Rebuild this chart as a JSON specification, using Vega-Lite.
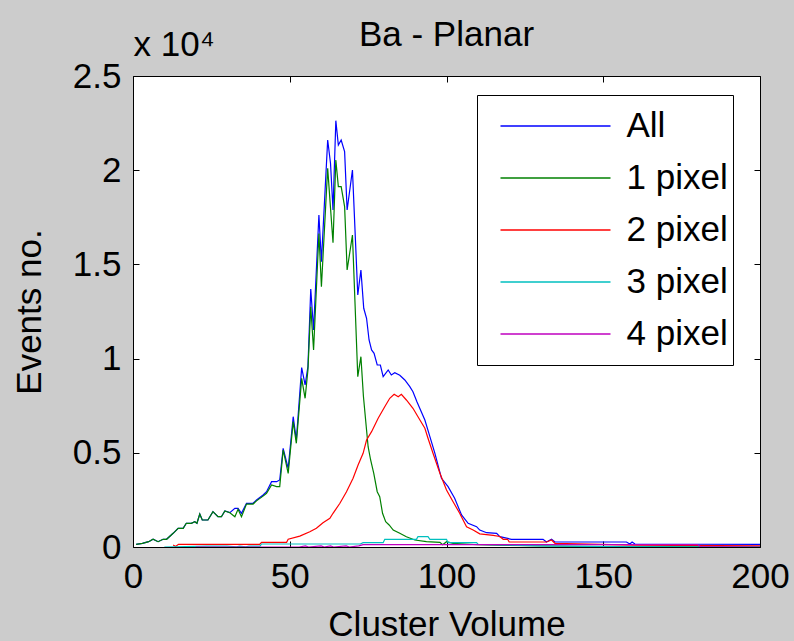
{
  "$schema": "https://vega.github.io/schema/vega-lite/v6.json",
  "width": 627,
  "height": 471,
  "autosize": {"type": "none"},
  "padding": {"left": 133, "top": 76, "right": 34, "bottom": 94},
  "background": "#cccccc",
  "title": {"text": "Ba - Planar", "fontSize": 35, "font": "Liberation Sans", "fontWeight": "normal", "color": "black", "anchor": "middle", "frame": "group", "baseline": "alphabetic", "offset": -54},
  "config": {
    "view": {"stroke": "black", "strokeWidth": 1, "fill": "white"},
    "axis": {"labelFont": "Liberation Sans", "titleFont": "Liberation Sans", "labelFontSize": 35, "titleFontSize": 35, "titleFontWeight": "normal", "labelColor": "black", "titleColor": "black", "tickColor": "black", "domain": false, "grid": false, "tickSize": -6, "tickWidth": 1, "labelFlush": false}
  },
  "datasets": {
    "d": [
      {"s":"All","x":1,"y":143},{"s":"All","x":3,"y":196},{"s":"All","x":5,"y":281},{"s":"All","x":6.4,"y":409},{"s":"All","x":8,"y":281},{"s":"All","x":9.6,"y":409},{"s":"All","x":10.7,"y":409},{"s":"All","x":12.8,"y":727},{"s":"All","x":14.4,"y":993},{"s":"All","x":16,"y":993},{"s":"All","x":17,"y":1258},{"s":"All","x":18.6,"y":1258},{"s":"All","x":19.7,"y":1343},{"s":"All","x":20.4,"y":1258},{"s":"All","x":21.3,"y":1752},{"s":"All","x":22.1,"y":1433},{"s":"All","x":23.9,"y":1433},{"s":"All","x":25.5,"y":1874},{"s":"All","x":27.1,"y":1608},{"s":"All","x":28.2,"y":1608},{"s":"All","x":29.3,"y":1911},{"s":"All","x":30.9,"y":1821},{"s":"All","x":32.5,"y":2054},{"s":"All","x":33.5,"y":2054},{"s":"All","x":34.6,"y":1789},{"s":"All","x":36.2,"y":2320},{"s":"All","x":38.3,"y":2320},{"s":"All","x":39.4,"y":2495},{"s":"All","x":41.5,"y":2760},{"s":"All","x":42.6,"y":2936},{"s":"All","x":44.2,"y":3467},{"s":"All","x":45.8,"y":3467},{"s":"All","x":46.8,"y":3557},{"s":"All","x":47.9,"y":5238},{"s":"All","x":49.5,"y":4176},{"s":"All","x":51.1,"y":6917},{"s":"All","x":52.1,"y":5680},{"s":"All","x":53.8,"y":9520},{"s":"All","x":54.9,"y":8600},{"s":"All","x":55.8,"y":9571},{"s":"All","x":56.7,"y":13696},{"s":"All","x":57.6,"y":11519},{"s":"All","x":59.3,"y":17624},{"s":"All","x":60.1,"y":15145},{"s":"All","x":62.1,"y":21605},{"s":"All","x":63.0,"y":20369},{"s":"All","x":63.8,"y":17889},{"s":"All","x":64.7,"y":22629},{"s":"All","x":65.5,"y":21340},{"s":"All","x":66.4,"y":21605},{"s":"All","x":67.5,"y":20984},{"s":"All","x":68.3,"y":17889},{"s":"All","x":70.0,"y":20013},{"s":"All","x":71.7,"y":13377},{"s":"All","x":72.7,"y":14704},{"s":"All","x":73.6,"y":12671},{"s":"All","x":74.5,"y":12140},{"s":"All","x":75.3,"y":10988},{"s":"All","x":76.1,"y":10458},{"s":"All","x":76.9,"y":10282},{"s":"All","x":77.9,"y":9661},{"s":"All","x":78.9,"y":9661},{"s":"All","x":79.8,"y":9040},{"s":"All","x":81.4,"y":9396},{"s":"All","x":82.4,"y":9130},{"s":"All","x":83.5,"y":9253},{"s":"All","x":85.1,"y":9115},{"s":"All","x":86.7,"y":8865},{"s":"All","x":88.3,"y":8509},{"s":"All","x":89.3,"y":8244},{"s":"All","x":90.6,"y":7700},{"s":"All","x":93.1,"y":6742},{"s":"All","x":94.7,"y":5855},{"s":"All","x":96.3,"y":4974},{"s":"All","x":98.4,"y":3647},{"s":"All","x":100.5,"y":3201},{"s":"All","x":102.6,"y":2585},{"s":"All","x":104.8,"y":1699},{"s":"All","x":106.9,"y":1258},{"s":"All","x":109.6,"y":1078},{"s":"All","x":110.6,"y":900},{"s":"All","x":112.8,"y":759},{"s":"All","x":116,"y":727},{"s":"All","x":117,"y":547},{"s":"All","x":120.7,"y":409},{"s":"All","x":130.8,"y":409},{"s":"All","x":131.9,"y":265},{"s":"All","x":133.5,"y":409},{"s":"All","x":134.6,"y":265},{"s":"All","x":157.4,"y":265},{"s":"All","x":158.5,"y":159},{"s":"All","x":159.2,"y":265},{"s":"All","x":160.1,"y":159},{"s":"All","x":200,"y":143},
      {"s":"1 pixel","x":1,"y":143},{"s":"1 pixel","x":3,"y":196},{"s":"1 pixel","x":5,"y":281},{"s":"1 pixel","x":6.4,"y":409},{"s":"1 pixel","x":8,"y":281},{"s":"1 pixel","x":9.6,"y":409},{"s":"1 pixel","x":10.7,"y":409},{"s":"1 pixel","x":12.8,"y":727},{"s":"1 pixel","x":14.4,"y":993},{"s":"1 pixel","x":16,"y":993},{"s":"1 pixel","x":17,"y":1258},{"s":"1 pixel","x":18.6,"y":1258},{"s":"1 pixel","x":19.7,"y":1343},{"s":"1 pixel","x":20.4,"y":1258},{"s":"1 pixel","x":21.3,"y":1752},{"s":"1 pixel","x":22.1,"y":1433},{"s":"1 pixel","x":23.9,"y":1433},{"s":"1 pixel","x":25.5,"y":1874},{"s":"1 pixel","x":27.1,"y":1608},{"s":"1 pixel","x":28.2,"y":1608},{"s":"1 pixel","x":29.3,"y":1911},{"s":"1 pixel","x":30.9,"y":1821},{"s":"1 pixel","x":32.5,"y":1608},{"s":"1 pixel","x":33.5,"y":2000},{"s":"1 pixel","x":34.6,"y":1608},{"s":"1 pixel","x":36.2,"y":2280},{"s":"1 pixel","x":38.3,"y":2280},{"s":"1 pixel","x":39.4,"y":2450},{"s":"1 pixel","x":41.5,"y":2700},{"s":"1 pixel","x":42.6,"y":2850},{"s":"1 pixel","x":44.2,"y":3291},{"s":"1 pixel","x":45.8,"y":3202},{"s":"1 pixel","x":46.8,"y":3202},{"s":"1 pixel","x":47.9,"y":5150},{"s":"1 pixel","x":49.5,"y":3911},{"s":"1 pixel","x":51.1,"y":6652},{"s":"1 pixel","x":52.1,"y":5504},{"s":"1 pixel","x":53.8,"y":8950},{"s":"1 pixel","x":54.9,"y":7893},{"s":"1 pixel","x":55.8,"y":9400},{"s":"1 pixel","x":56.7,"y":12756},{"s":"1 pixel","x":57.6,"y":10458},{"s":"1 pixel","x":59.3,"y":16633},{"s":"1 pixel","x":60.1,"y":13818},{"s":"1 pixel","x":62.1,"y":20102},{"s":"1 pixel","x":63.0,"y":18000},{"s":"1 pixel","x":63.8,"y":16153},{"s":"1 pixel","x":64.7,"y":20543},{"s":"1 pixel","x":65.5,"y":19126},{"s":"1 pixel","x":66.4,"y":19126},{"s":"1 pixel","x":67.5,"y":18066},{"s":"1 pixel","x":68.3,"y":14704},{"s":"1 pixel","x":70.0,"y":16562},{"s":"1 pixel","x":71.7,"y":9040},{"s":"1 pixel","x":72.7,"y":10102},{"s":"1 pixel","x":73.5,"y":8000},{"s":"1 pixel","x":74.5,"y":6211},{"s":"1 pixel","x":75.0,"y":5324},{"s":"1 pixel","x":75.8,"y":4618},{"s":"1 pixel","x":76.8,"y":3912},{"s":"1 pixel","x":77.9,"y":2936},{"s":"1 pixel","x":78.7,"y":2670},{"s":"1 pixel","x":79.6,"y":1789},{"s":"1 pixel","x":80.6,"y":1343},{"s":"1 pixel","x":81.7,"y":1168},{"s":"1 pixel","x":83.0,"y":902},{"s":"1 pixel","x":85.1,"y":727},{"s":"1 pixel","x":87.2,"y":547},{"s":"1 pixel","x":89.9,"y":372},{"s":"1 pixel","x":93.6,"y":281},{"s":"1 pixel","x":97.9,"y":249},{"s":"1 pixel","x":98.8,"y":120},{"s":"1 pixel","x":100,"y":281},{"s":"1 pixel","x":102.1,"y":196},{"s":"1 pixel","x":110,"y":120},{"s":"1 pixel","x":120,"y":80},{"s":"1 pixel","x":140,"y":40},{"s":"1 pixel","x":160,"y":20},{"s":"1 pixel","x":200,"y":10},
      {"s":"2 pixel","x":12.8,"y":106},{"s":"2 pixel","x":13.6,"y":30},{"s":"2 pixel","x":14.5,"y":143},{"s":"2 pixel","x":40.4,"y":143},{"s":"2 pixel","x":41,"y":249},{"s":"2 pixel","x":49,"y":249},{"s":"2 pixel","x":49.5,"y":409},{"s":"2 pixel","x":53.2,"y":580},{"s":"2 pixel","x":56.4,"y":812},{"s":"2 pixel","x":58.5,"y":993},{"s":"2 pixel","x":60.6,"y":1290},{"s":"2 pixel","x":62.8,"y":1524},{"s":"2 pixel","x":63.8,"y":1789},{"s":"2 pixel","x":66.0,"y":2320},{"s":"2 pixel","x":68.1,"y":2936},{"s":"2 pixel","x":70.2,"y":3647},{"s":"2 pixel","x":71.8,"y":4353},{"s":"2 pixel","x":73.4,"y":4974},{"s":"2 pixel","x":74.5,"y":5680},{"s":"2 pixel","x":76.1,"y":6121},{"s":"2 pixel","x":78.2,"y":6832},{"s":"2 pixel","x":80.3,"y":7448},{"s":"2 pixel","x":81.9,"y":7893},{"s":"2 pixel","x":83.3,"y":8106},{"s":"2 pixel","x":84.6,"y":7979},{"s":"2 pixel","x":85.6,"y":8106},{"s":"2 pixel","x":87.2,"y":7803},{"s":"2 pixel","x":89.3,"y":7363},{"s":"2 pixel","x":90.9,"y":6917},{"s":"2 pixel","x":93.1,"y":6301},{"s":"2 pixel","x":94.1,"y":5770},{"s":"2 pixel","x":95.7,"y":4974},{"s":"2 pixel","x":97.9,"y":3912},{"s":"2 pixel","x":100,"y":3026},{"s":"2 pixel","x":102.1,"y":2405},{"s":"2 pixel","x":104.2,"y":1789},{"s":"2 pixel","x":106.4,"y":1078},{"s":"2 pixel","x":108.5,"y":902},{"s":"2 pixel","x":110.6,"y":700},{"s":"2 pixel","x":114.9,"y":620},{"s":"2 pixel","x":117,"y":560},{"s":"2 pixel","x":118.1,"y":409},{"s":"2 pixel","x":119.5,"y":409},{"s":"2 pixel","x":120,"y":265},{"s":"2 pixel","x":131.9,"y":265},{"s":"2 pixel","x":133.5,"y":372},{"s":"2 pixel","x":134.6,"y":196},{"s":"2 pixel","x":160,"y":100},{"s":"2 pixel","x":200,"y":60},
      {"s":"3 pixel","x":10,"y":0},{"s":"3 pixel","x":23.6,"y":50},{"s":"3 pixel","x":30,"y":50},{"s":"3 pixel","x":33,"y":10},{"s":"3 pixel","x":34,"y":50},{"s":"3 pixel","x":36,"y":10},{"s":"3 pixel","x":37,"y":50},{"s":"3 pixel","x":40.5,"y":50},{"s":"3 pixel","x":41,"y":159},{"s":"3 pixel","x":72.5,"y":159},{"s":"3 pixel","x":73.4,"y":230},{"s":"3 pixel","x":79.8,"y":230},{"s":"3 pixel","x":80.3,"y":409},{"s":"3 pixel","x":90.4,"y":409},{"s":"3 pixel","x":90.9,"y":547},{"s":"3 pixel","x":94.1,"y":547},{"s":"3 pixel","x":94.7,"y":409},{"s":"3 pixel","x":100,"y":409},{"s":"3 pixel","x":100.5,"y":230},{"s":"3 pixel","x":109.6,"y":230},{"s":"3 pixel","x":110.1,"y":143},{"s":"3 pixel","x":130,"y":60},{"s":"3 pixel","x":150,"y":20},{"s":"3 pixel","x":200,"y":0},
      {"s":"4 pixel","x":20,"y":0},{"s":"4 pixel","x":53,"y":0},{"s":"4 pixel","x":55,"y":60},{"s":"4 pixel","x":56,"y":0},{"s":"4 pixel","x":60,"y":60},{"s":"4 pixel","x":61,"y":0},{"s":"4 pixel","x":63,"y":60},{"s":"4 pixel","x":64,"y":0},{"s":"4 pixel","x":68,"y":60},{"s":"4 pixel","x":69,"y":0},{"s":"4 pixel","x":72,"y":60},{"s":"4 pixel","x":73.4,"y":130},{"s":"4 pixel","x":180,"y":130},{"s":"4 pixel","x":181,"y":20},{"s":"4 pixel","x":200,"y":0}
    ]
  },
  "data": {"name": "d"},
  "layer": [
    {
      "mark": {"type": "line", "strokeWidth": 1.2, "interpolate": "linear", "clip": true},
      "encoding": {
        "x": {"field": "x", "type": "quantitative", "scale": {"domain": [0, 200], "nice": false},
              "axis": {"orient": "bottom", "values": [0, 50, 100, 150, 200], "title": "Cluster Volume", "labelPadding": 18, "titleY": 88, "titleBaseline": "alphabetic"}},
        "y": {"field": "y", "type": "quantitative", "scale": {"domain": [0, 25000], "nice": false},
              "axis": {"orient": "left", "values": [0, 5000, 10000, 15000, 20000, 25000], "labelExpr": "datum.value / 10000", "labelPadding": 18, "title": "Events no.", "titleX": -104, "titleBaseline": "middle"}},
        "color": {"field": "s", "type": "nominal",
                  "scale": {"domain": ["All", "1 pixel", "2 pixel", "3 pixel", "4 pixel"], "range": ["#0000ff", "#008000", "#ff0000", "#00bfbf", "#bf00bf"]},
                  "legend": {"title": null, "orient": "none", "legendX": 344, "legendY": 19, "labelFont": "Liberation Sans", "labelFontSize": 35, "labelColor": "black", "symbolType": "stroke", "symbolSize": 12100, "symbolStrokeWidth": 1.3, "clipHeight": 52, "rowPadding": 0, "padding": 5, "symbolOffset": 17.5, "labelOffset": 15, "strokeColor": "black", "fillColor": "white"}},
        "order": {"field": "x", "type": "quantitative"}
      }
    },
    {
      "mark": {"type": "line", "opacity": 0},
      "encoding": {
        "x": {"field": "x", "type": "quantitative", "axis": {"orient": "top", "values": [0, 50, 100, 150, 200], "labels": false, "title": "x 10⁴", "titleX": 0, "titleY": -21, "titleAlign": "left", "titleBaseline": "alphabetic", "titleAngle": 0}},
        "y": {"field": "y", "type": "quantitative", "axis": {"orient": "right", "values": [0, 5000, 10000, 15000, 20000, 25000], "labels": false, "title": null}}
      }
    }
  ],
  "resolve": {"axis": {"x": "independent", "y": "independent"}}
}
